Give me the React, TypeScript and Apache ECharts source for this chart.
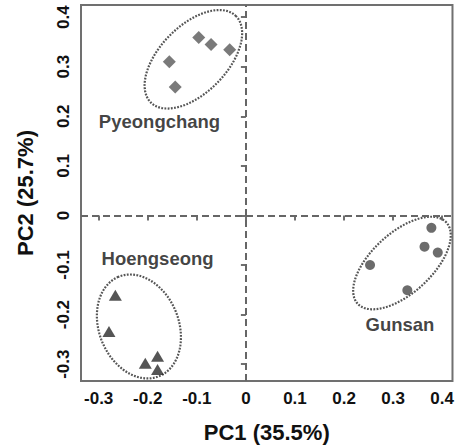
import React, { useEffect, useRef } from "react";
import * as echarts from "echarts";

// ---- data ----
const pyeongchang: [number, number][] = [
  [-0.156, 0.31],
  [-0.144, 0.259],
  [-0.096, 0.359],
  [-0.071, 0.345],
  [-0.033, 0.334],
];
const hoengseong: [number, number][] = [
  [-0.266, -0.161],
  [-0.279, -0.234],
  [-0.205, -0.298],
  [-0.18, -0.284],
  [-0.18, -0.311],
];
const gunsan: [number, number][] = [
  [0.378, -0.025],
  [0.364, -0.063],
  [0.391, -0.075],
  [0.253, -0.1],
  [0.329, -0.151],
];
// ellipse: [centerX, centerY, semiMajor, semiMinor, angleDeg]
const ellipses: number[][] = [
  [-0.107, 0.315, 0.123, 0.068, 45],
  [-0.218, -0.224, 0.1085, 0.081, 112.7],
  [0.318, -0.096, 0.122, 0.061, 42],
];
const groupLabels: { name: string; value: [number, number] }[] = [
  { name: "Pyeongchang", value: [-0.176, 0.189] },
  { name: "Hoengseong", value: [-0.18, -0.0865] },
  { name: "Gunsan", value: [0.314, -0.221] },
];
const xTicks = [-0.3, -0.2, -0.1, 0, 0.1, 0.2, 0.3, 0.4];
const yTicks = [-0.3, -0.2, -0.1, 0, 0.1, 0.2, 0.3, 0.4];
const xRange = [-0.336, 0.421];
const yRange = [-0.334, 0.4245];
const xTitle = "PC1 (35.5%)";
const yTitle = "PC2 (25.7%)";

const FONT = "'Liberation Sans', Arial, Helvetica, sans-serif";
const fmt = (v: number) => {
  const r = Math.round(v * 10) / 10;
  return r === 0 ? "0" : String(r);
};

export default function App() {
  const ref = useRef<HTMLDivElement>(null);
  useEffect(() => {
    if (!ref.current) return;
    const chart = echarts.init(ref.current, null, { renderer: "svg" });
    const axisCommon = {
      type: "value",
      nameLocation: "middle",
      nameTextStyle: { fontFamily: FONT, fontWeight: "bold", fontSize: 22, color: "#111" },
      axisLine: { show: false },
      splitLine: { show: false },
      axisTick: {
        show: true,
        length: 5,
        lineStyle: { color: "#707070", width: 2 },
      },
      axisLabel: {
        fontFamily: FONT,
        fontWeight: "bold",
        fontSize: 17,
        color: "#111",
        formatter: fmt,
      },
    };
    chart.setOption({
      animation: false,
      grid: {
        left: 81,
        right: 2,
        top: 5,
        bottom: 66,
        show: true,
        borderColor: "#707070",
        borderWidth: 2,
        backgroundColor: "#fff",
      },
      xAxis: {
        ...axisCommon,
        min: xRange[0],
        max: xRange[1],
        name: xTitle,
        nameGap: 40,
        axisTick: { ...axisCommon.axisTick, customValues: xTicks },
        axisLabel: { ...axisCommon.axisLabel, customValues: xTicks, margin: 9 },
      },
      yAxis: {
        ...axisCommon,
        min: yRange[0],
        max: yRange[1],
        name: yTitle,
        nameGap: 45,
        axisTick: { ...axisCommon.axisTick, customValues: yTicks },
        axisLabel: { ...axisCommon.axisLabel, customValues: yTicks, rotate: 90, margin: 9 },
      },
      series: [
        {
          type: "custom",
          silent: true,
          data: ellipses,
          renderItem: (params: any, api: any) => {
            const cx = api.value(0);
            const cy = api.value(1);
            const a = api.value(2);
            const b = api.value(3);
            const th = (api.value(4) * Math.PI) / 180;
            const pts: number[][] = [];
            for (let i = 0; i < 120; i++) {
              const t = (i / 120) * Math.PI * 2;
              const x = cx + a * Math.cos(t) * Math.cos(th) - b * Math.sin(t) * Math.sin(th);
              const y = cy + a * Math.cos(t) * Math.sin(th) + b * Math.sin(t) * Math.cos(th);
              pts.push(api.coord([x, y]));
            }
            return {
              type: "polygon",
              shape: { points: pts },
              style: {
                fill: "none",
                stroke: "#555",
                lineWidth: 2.2,
                lineDash: [1.8, 1.4],
              },
            };
          },
        },
        {
          type: "scatter",
          data: pyeongchang,
          symbol: "diamond",
          symbolSize: 13,
          itemStyle: { color: "#595959" },
          markLine: {
            silent: true,
            symbol: "none",
            label: { show: false },
            lineStyle: { type: [7, 4], color: "#666", width: 2 },
            data: [{ xAxis: 0 }, { yAxis: 0 }],
          },
        },
        {
          type: "scatter",
          data: hoengseong,
          symbol: "triangle",
          symbolSize: [13, 11],
          itemStyle: { color: "#2b2b2b" },
        },
        {
          type: "scatter",
          data: gunsan,
          symbol: "circle",
          symbolSize: 10,
          itemStyle: { color: "#474747" },
        },
        {
          type: "scatter",
          data: groupLabels,
          symbolSize: 0,
          silent: true,
          label: {
            show: true,
            position: "inside",
            formatter: (p: any) => p.name,
            fontFamily: FONT,
            fontWeight: "bold",
            fontSize: 18.5,
            color: "#111",
          },
        },
      ],
    });
    return () => chart.dispose();
  }, []);
  return (
    <div
      ref={ref}
      style={{ position: "absolute", left: 0, top: 0, width: 457, height: 448 }}
    />
  );
}
